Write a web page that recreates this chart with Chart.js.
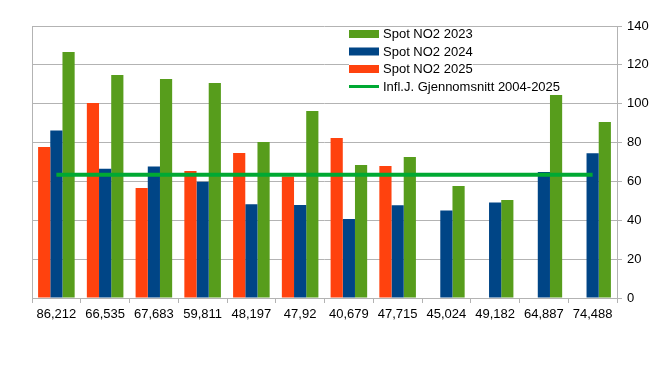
<!DOCTYPE html>
<html>
<head>
<meta charset="utf-8">
<script src="https://cdn.jsdelivr.net/npm/chart.js@4"></script>
<style>
  body { margin: 0; background: #fff; }
</style>
</head>
<body>
<canvas id="myChart" width="652" height="366"></canvas>
<script>
const categories = ['86,212', '66,535', '67,683', '59,811', '48,197', '47,92', '40,679', '47,715', '45,024', '49,182', '64,887', '74,488'];
const spot2025 = [77.7, 100.4, 56.6, 65.4, 74.6, 62.5, 82.3, 67.9, null, null, null, null];
const spot2024 = [86.212, 66.535, 67.683, 59.811, 48.197, 47.92, 40.679, 47.715, 45.024, 49.182, 64.887, 74.488];
const spot2023 = [126.6, 114.8, 112.7, 110.7, 80.3, 96.2, 68.5, 72.6, 57.6, 50.4, 104.5, 90.6];
const average = [63.5, 63.5, 63.5, 63.5, 63.5, 63.5, 63.5, 63.5, 63.5, 63.5, 63.5, 63.5];
const yTicks = [0, 20, 40, 60, 80, 100, 120, 140];

const gridColor = '#b3b3b3';
const font = { family: '"Liberation Sans", Arial, sans-serif', size: 13 };

// legend drawn inside the plot, like the original
const insideLegend = {
    id: 'insideLegend',
    afterDraw(chart) {
        const ctx = chart.ctx;
        const ds = chart.data.datasets;
        const order = [2, 1, 0, 3];
        ctx.save();
        ctx.font = '13px ' + font.family;
        ctx.textBaseline = 'middle';
        order.forEach((idx, row) => {
            const d = ds[idx];
            const y = 34 + row * 17.5;
            const w = ctx.measureText(d.label).width;
            ctx.fillStyle = '#fff';
            ctx.fillRect(349, y - 7, 34 + w, 14);
            ctx.fillStyle = d.type === 'line' ? d.borderColor : d.backgroundColor;
            if (d.type === 'line') {
                ctx.fillRect(349, y - 1.5, 30, 3);
            } else {
                ctx.fillRect(349, y - 4, 30, 8);
            }
            ctx.fillStyle = '#000';
            ctx.fillText(d.label, 383, y + 0.5);
        });
        ctx.restore();
    }
};

const ctx = document.getElementById('myChart').getContext('2d');
new Chart(ctx, {
    type: 'bar',
    data: {
        labels: categories,
        datasets: [
            { label: 'Spot NO2 2025', data: spot2025, backgroundColor: '#ff420e', order: 2 },
            { label: 'Spot NO2 2024', data: spot2024, backgroundColor: '#004586', order: 2 },
            { label: 'Spot NO2 2023', data: spot2023, backgroundColor: '#579d1c', order: 2 },
            {
                type: 'line',
                label: 'Infl.J. Gjennomsnitt 2004-2025',
                data: average,
                borderColor: '#00a933',
                backgroundColor: '#00a933',
                borderWidth: 4,
                pointRadius: 0,
                fill: false,
                order: 1
            }
        ]
    },
    options: {
        responsive: false,
        animation: false,
        layout: { padding: { left: 32, top: 26, right: 0, bottom: 38 } },
        datasets: {
            bar: { categoryPercentage: 0.75, barPercentage: 1.0 }
        },
        plugins: {
            legend: { display: false },
            tooltip: { enabled: false }
        },
        scales: {
            x: {
                offset: true,
                grid: {
                    offset: true,
                    color: (c) => c.index === 0 ? gridColor : 'rgba(0,0,0,0)',
                    tickColor: gridColor,
                    tickLength: 5
                },
                border: { color: gridColor },
                ticks: { color: '#000', font: font, maxRotation: 0, autoSkip: false, padding: 4 },
                afterFit: (scale) => { scale.height = 30; }
            },
            y: {
                position: 'right',
                min: 0,
                max: 140,
                afterBuildTicks: (scale) => { scale.ticks = yTicks.map(v => ({ value: v })); },
                grid: { color: gridColor, tickColor: gridColor, tickLength: 5 },
                border: { color: gridColor },
                ticks: { color: '#000', font: font, padding: 5 },
                afterFit: (scale) => { scale.width = 35; }
            }
        }
    },
    plugins: [insideLegend]
});
</script>
</body>
</html>
